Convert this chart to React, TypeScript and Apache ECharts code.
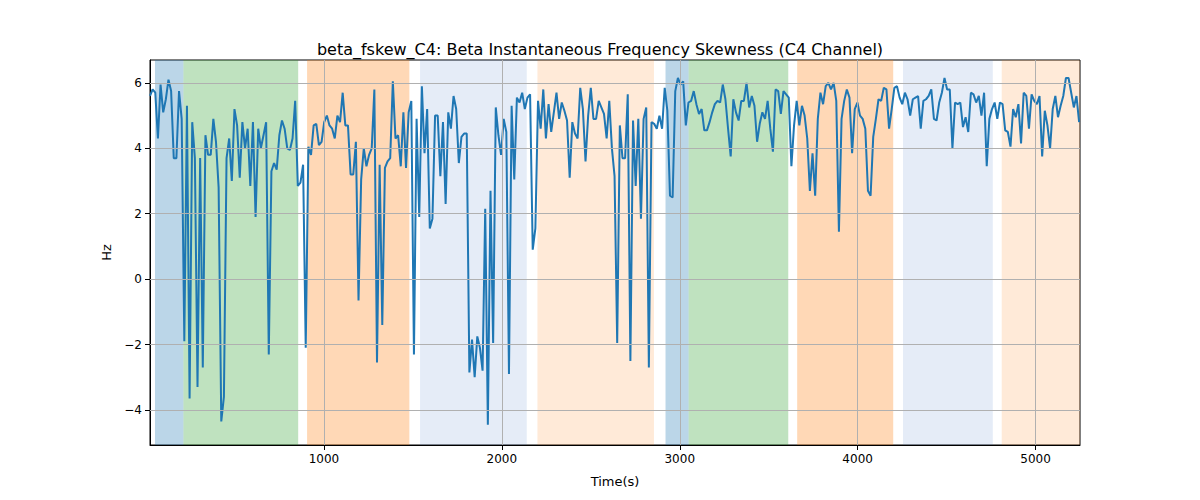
import { useEffect, useRef } from "react";
import * as echarts from "echarts";

// beta skewness samples, read left to right off the reference
const VALUES: number[] = [
  5.6, 5.8, 5.7, 4.3, 5.95, 5.1, 5.5, 6.1, 5.75, 3.7, 3.7, 5.75, 4.9, -1.9, 5.3, -3.65, 4.8, 3.7, -3.3, 3.7,
  -2.7, 4.4, 3.8, 3.8, 4.9, 4.2, 2.8, -4.35, -3.6, 3.7, 4.3, 3.0, 5.2, 4.7, 3.1, 4.8, 4.0, 4.6, 2.85, 4.8,
  1.9, 4.6, 4.0, 4.4, 4.8, -2.3, 3.3, 3.55, 3.35, 4.4, 4.85, 4.6, 4.0, 3.95, 4.3, 5.45, 2.85, 2.95, 3.5, -2.1,
  4.05,
  3.8, 4.7, 4.75, 4.1, 4.2, 4.8, 5.0, 4.7, 4.6, 4.3, 5.0, 4.8, 5.7, 4.7, 4.7, 3.2, 3.2, 4.2, -0.65, 3.05,
  4.0, 3.45, 3.8, 4.0, 5.8, -2.55, 3.5, -1.4, 3.4, 3.6, 3.7, 6.05, 4.3, 4.4, 3.45, 5.1, 3.4, 5.1, 5.45, -2.3,
  4.9, 1.9, 5.9, 3.85, 5.2, 1.55, 1.85, 5.0, 5.0, 3.15, 4.8, 2.3, 5.1, 4.6, 5.6, 5.2, 3.55,
  4.35, 4.45, 4.45, -2.85, -1.85, -3.0, -1.75, -2.1, -2.8, 2.15, -4.45, 2.7, -1.95, 5.25, 4.4, 3.8, 4.9, 4.5, -2.9, 5.3,
  3.05, 5.55, 5.4, 5.7, 5.2, 5.55, 5.65, 0.9, 1.55, 5.45, 4.6, 5.8, 4.3, 5.35, 4.5, 5.1, 5.7, 4.9, 5.4, 5.15,
  4.85, 3.1, 4.8, 4.45, 4.3, 5.85, 5.2, 3.6, 5.0, 5.85, 4.9, 4.9, 5.45,
  5.25, 5.05, 4.3, 5.45, 4.0, 3.15, -1.95, 4.7, 3.7, 3.7, 5.65, -2.5, 4.85, 2.85, 4.9, 1.85, 4.9, 5.25, -2.7, 4.8,
  4.75, 4.6, 5.0, 4.6, 5.85, 5.15, 2.55, 2.5, 5.75, 6.15, 5.95, 6.05, 4.7, 5.4, 5.45, 5.75, 5.35, 5.05, 5.2, 4.55,
  4.55, 4.8, 5.1, 5.35, 5.45, 5.4, 5.95, 5.5, 4.6, 3.75, 5.5, 5.1, 4.85, 5.45, 5.45, 6.0, 5.25, 5.6, 5.3, 4.2,
  4.75, 5.1, 4.9, 5.45, 4.6, 3.9, 5.8, 5.75, 5.05, 5.75, 5.65, 5.55, 3.45, 4.7, 5.45, 4.7, 5.3, 5.0, 4.3, 2.7,
  3.85, 2.55, 4.9, 5.7, 5.35, 5.9, 6.0, 5.8, 6.0, 5.45, 1.45, 4.9, 5.45, 5.8, 5.55, 3.85, 5.2, 5.4, 5.0, 4.9,
  4.6, 2.7, 2.55, 4.35, 4.9, 5.5, 5.45, 5.85, 5.8, 4.6, 5.2, 5.85, 5.9, 5.55, 5.35, 5.7, 5.5, 5.0, 5.5, 5.55,
  5.6, 4.6, 5.45, 5.5, 5.6, 5.8, 4.9, 4.85, 5.4, 5.7, 6.15, 5.8, 5.8, 4.0, 5.4, 5.35, 5.4, 4.65, 4.95, 4.5,
  5.7, 5.65, 5.4, 5.6, 5.0, 5.7, 3.45, 4.9, 5.2, 5.4, 4.9, 5.4, 5.35, 4.55, 4.5, 4.05, 5.2, 4.95, 5.35, 4.15,
  5.7, 5.6, 4.6, 5.65, 5.45, 5.35, 5.6, 3.75, 5.15, 4.7, 4.0, 5.2, 5.6, 4.95, 5.3, 5.6, 6.15, 6.15, 5.7, 5.25,
  5.6, 4.8,
];
const T_START = 22;
const T_END = 5250;

// shaded bands: [start, end, colour]
const BANDS: [number, number, string][] = [
  [50, 210, "rgba(31,119,180,0.3)"],
  [210, 855, "rgba(44,160,44,0.3)"],
  [905, 1480, "rgba(255,127,14,0.3)"],
  [1540, 2140, "rgba(70,120,200,0.14)"],
  [2200, 2855, "rgba(255,127,14,0.16)"],
  [2920, 3050, "rgba(31,119,180,0.3)"],
  [3050, 3610, "rgba(44,160,44,0.3)"],
  [3660, 4200, "rgba(255,127,14,0.3)"],
  [4255, 4760, "rgba(70,120,200,0.14)"],
  [4810, 5250, "rgba(255,127,14,0.16)"],
];
const X_TICKS = [1000, 2000, 3000, 4000, 5000];
const Y_TICKS = [-4, -2, 0, 2, 4, 6];

export default function App() {
  const ref = useRef<HTMLDivElement>(null);

  useEffect(() => {
    document.body.style.margin = "0";
    if (!ref.current) return;
    const chart = echarts.init(ref.current, null, { renderer: "svg" });
    const step = (T_END - T_START - 5) / (VALUES.length - 1);
    const points = VALUES.map((v, i) => [T_START + i * step, v]);
    const grey = "#b0b0b0";
    const font = "DejaVu Sans";

    chart.setOption({
      animation: false,
      textStyle: { fontFamily: font },
      title: {
        text: "beta_fskew_C4: Beta Instantaneous Frequency Skewness (C4 Channel)",
        left: "center",
        top: 36,
        textStyle: { fontSize: 16, fontWeight: "normal", color: "#000", fontFamily: font },
      },
      grid: { left: 150, right: 120, top: 60, bottom: 55, show: true, borderColor: "#000", borderWidth: 1 },
      xAxis: {
        type: "value",
        min: T_START,
        max: T_END,
        name: "Time(s)",
        nameLocation: "middle",
        nameGap: 30,
        nameTextStyle: { fontSize: 13, color: "#000" },
        axisLine: { onZero: false, lineStyle: { color: "#000" } },
        axisTick: { show: true, customValues: X_TICKS, lineStyle: { color: "#000" } },
        axisLabel: { customValues: X_TICKS, color: "#000", fontSize: 12, formatter: (v: number) => String(v) },
        splitLine: { show: false },
      },
      yAxis: {
        type: "value",
        min: -5.07,
        max: 6.7,
        name: "Hz",
        nameLocation: "middle",
        nameGap: 35,
        nameTextStyle: { fontSize: 13, color: "#000" },
        axisLine: { show: true, lineStyle: { color: "#000" } },
        axisTick: { show: true, customValues: Y_TICKS, lineStyle: { color: "#000" } },
        axisLabel: {
          customValues: Y_TICKS,
          color: "#000",
          fontSize: 12,
          formatter: (v: number) => (v < 0 ? "\u2212" + Math.abs(v) : String(v)),
        },
        splitLine: { show: false },
      },
      series: [
        {
          type: "line",
          data: points,
          showSymbol: false,
          lineStyle: { color: "#1f77b4", width: 2 },
          z: 3,
          markArea: {
            silent: true,
            data: BANDS.map(([a, b, c]) => [
              { xAxis: a, itemStyle: { color: c } },
              { xAxis: b },
            ]),
          },
          markLine: {
            silent: true,
            symbol: "none",
            label: { show: false },
            lineStyle: { color: grey, type: "solid", width: 1 },
            data: [
              ...X_TICKS.map((x) => ({ xAxis: x })),
              ...Y_TICKS.map((y) => ({ yAxis: y })),
            ],
          },
        },
      ],
    });
    return () => chart.dispose();
  }, []);

  return <div ref={ref} style={{ width: 1200, height: 500 }} />;
}
